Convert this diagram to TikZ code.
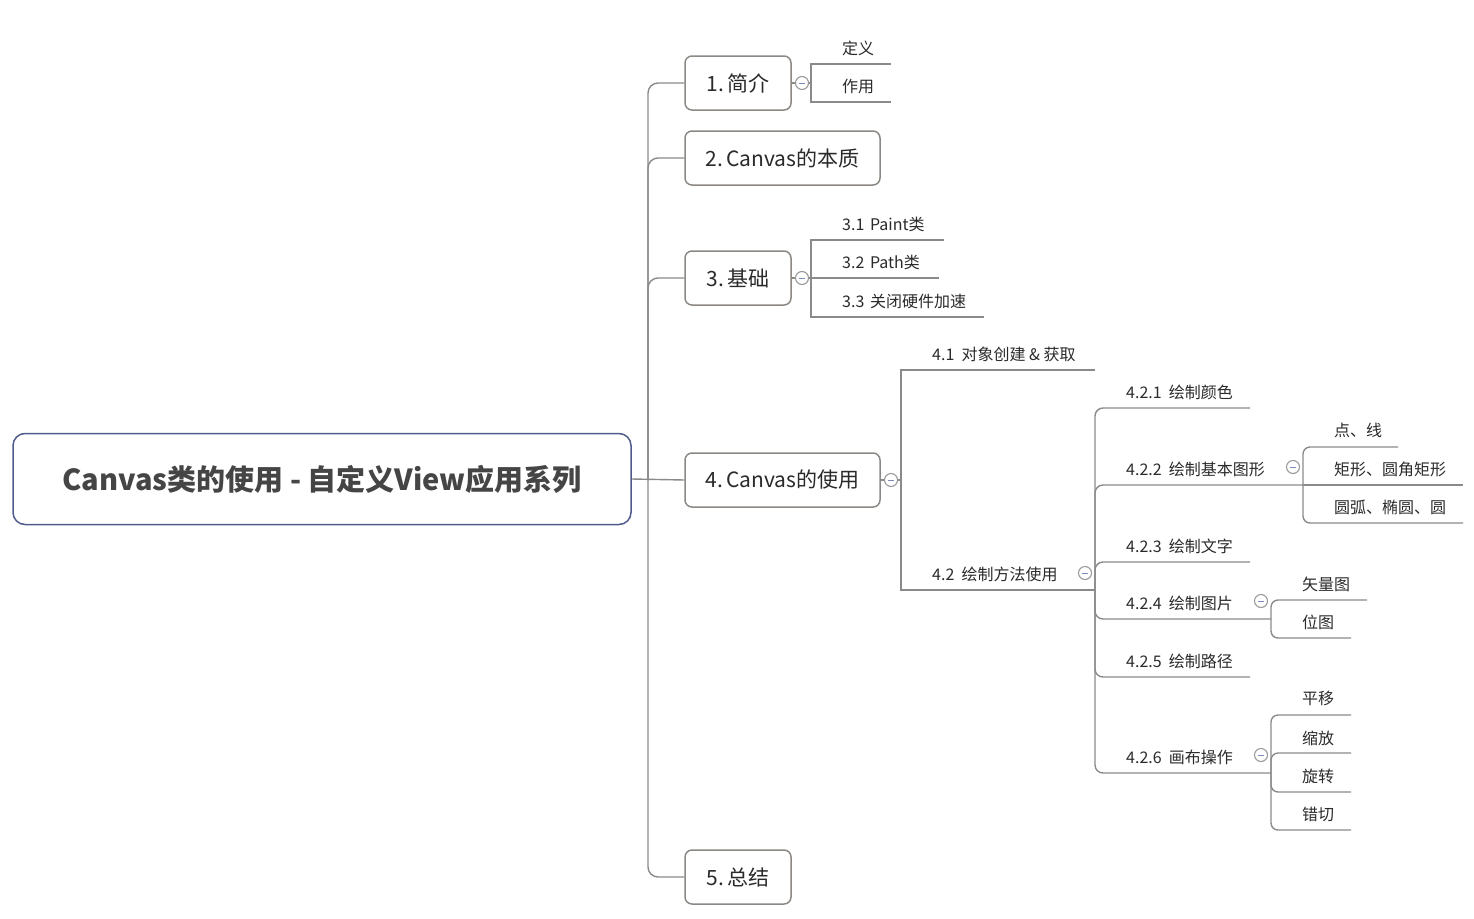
\documentclass[tikz,border=0pt]{standalone}
\usepackage{fontspec}
\setmainfont{Noto Sans CJK SC}
\definecolor{linegray}{HTML}{8A8A8A}
\definecolor{boxgray}{HTML}{8C8884}
\definecolor{rootblue}{HTML}{4F5B8C}
\definecolor{roottxt}{HTML}{454545}
\definecolor{txt}{HTML}{2A2A2A}
\definecolor{foldgray}{HTML}{9A9A9A}
\definecolor{minusblue}{HTML}{7D8BBE}
\newcommand{\mygap}{\hspace{0.45em}}
\begin{document}
\begin{tikzpicture}[x=1pt,y=-1pt,
  conn/.style={draw=linegray,line width=1.4pt},
  topic/.style={draw=boxgray,line width=1.5pt,rounded corners=7pt,fill=white,minimum height=54pt,inner sep=0pt,font=\fontsize{21}{25}\selectfont,text=txt},
  leaf/.style={anchor=base west,inner sep=0pt,font=\fontsize{16}{19}\selectfont,text=txt},
  fold/.style={circle,draw=foldgray,line width=1.1pt,fill=white,minimum size=13pt,inner sep=0pt,
    path picture={\draw[minusblue,line width=1pt] ([xshift=-2.8pt]path picture bounding box.center) -- ([xshift=2.8pt]path picture bounding box.center);}}]
\useasboundingbox (0,0) rectangle (1474,918);

% root
\node[draw=rootblue,line width=1.5pt,rounded corners=12pt,minimum width=618pt,minimum height=91pt,inner sep=0pt,
  font=\fontsize{29}{35}\selectfont\bfseries,text=roottxt] (root) at (322,479) {\raisebox{-1.5pt}{Canvas类的使用 - 自定义View应用系列}};

% main topics
\node[topic,minimum width=106pt] (t1) at (738,83) {\raisebox{-1pt}{1.\,简介}};
\node[topic,minimum width=195pt] (t2) at (782.5,158) {\raisebox{-1pt}{2.\,Canvas的本质}};
\node[topic,minimum width=106pt] (t3) at (738,278) {\raisebox{-1pt}{3.\,基础}};
\node[topic,minimum width=195pt] (t4) at (782.5,480) {\raisebox{-1pt}{4.\,Canvas的使用}};
\node[topic,minimum width=106pt] (t5) at (738,877) {\raisebox{-1pt}{5.\,总结}};

\coordinate (tr) at (648,480);
\draw[conn] (root.east) -- (t4.west);
\draw[conn,rounded corners=10pt] (tr) |- (t1.west);
\draw[conn,rounded corners=10pt] (tr) |- (t2.west);
\draw[conn,rounded corners=10pt] (tr) |- (t3.west);
\draw[conn,rounded corners=10pt] (tr) |- (t5.west);

% topic 1
\node[fold] (f1) at (802,83) {};
\coordinate (b1) at (811,83);
\coordinate (u11) at (891,64);
\coordinate (u12) at (891,102);
\draw[conn] (t1.east) -- (f1.west);
\draw[conn] (f1.east) -- (b1);
\draw[conn] (u11) -| (b1) |- (u12);
\node[leaf] (l11) at (842,54) {定义};
\node[leaf] (l12) at (842,92) {作用};

% topic 3
\node[fold] (f3) at (802,278) {};
\coordinate (b3) at (811,278);
\coordinate (u31) at (944,240);
\coordinate (u32) at (939,278);
\coordinate (u33) at (984,317);
\draw[conn] (t3.east) -- (f3.west);
\draw[conn] (f3.east) -- (b3);
\draw[conn] (u31) -| (b3) |- (u33);
\draw[conn] (b3) -- (u32);
\node[leaf] (l31) at (842,230) {3.1\hspace{0.35em}Paint类};
\node[leaf] (l32) at (842,268) {3.2\hspace{0.35em}Path类};
\node[leaf] (l33) at (842,307) {3.3\hspace{0.35em}关闭硬件加速};

% topic 4
\node[fold] (f4) at (891,480) {};
\coordinate (b4) at (901,480);
\coordinate (u41) at (1095,370);
\coordinate (j42) at (1095,590);
\draw[conn] (t4.east) -- (f4.west);
\draw[conn] (f4.east) -- (b4);
\draw[conn] (u41) -| (b4) |- (j42);
\node[leaf] (l41) at (932,360) {4.1\mygap 对象创建 \& 获取};
\node[leaf] (l42) at (932,580) {4.2\mygap 绘制方法使用};
\node[fold] (f42) at (1085,573) {};

% 4.2 children
\coordinate (u421) at (1250,408);
\coordinate (j422) at (1303,485);
\coordinate (u423) at (1250,562);
\coordinate (j424) at (1271,619);
\coordinate (u425) at (1250,677);
\coordinate (j426) at (1271,773);
\foreach \e in {u421,j422,u423,j424,u425,j426}
  \draw[conn,rounded corners=8pt] (j42) |- (\e);
\node[leaf] (l421) at (1126,398) {4.2.1\mygap 绘制颜色};
\node[leaf] (l422) at (1126,475) {4.2.2\mygap 绘制基本图形};
\node[leaf] (l423) at (1126,552) {4.2.3\mygap 绘制文字};
\node[leaf] (l424) at (1126,609) {4.2.4\mygap 绘制图片};
\node[leaf] (l425) at (1126,667) {4.2.5\mygap 绘制路径};
\node[leaf] (l426) at (1126,763) {4.2.6\mygap 画布操作};
\node[fold] (f422) at (1293,467) {};
\node[fold] (f424) at (1261,601) {};
\node[fold] (f426) at (1261,755) {};

% 4.2.2 children
\coordinate (u4221) at (1398,447);
\coordinate (u4222) at (1463,485);
\coordinate (u4223) at (1463,523);
\draw[conn,rounded corners=7pt] (j422) |- (u4221);
\draw[conn] (j422) -- (u4222);
\draw[conn,rounded corners=7pt] (j422) |- (u4223);
\node[leaf] (l4221) at (1334,436) {点、线};
\node[leaf] (l4222) at (1334,475) {矩形、圆角矩形};
\node[leaf] (l4223) at (1334,513) {圆弧、椭圆、圆};

% 4.2.4 children
\coordinate (u4241) at (1367,600);
\coordinate (u4242) at (1351,638);
\draw[conn,rounded corners=7pt] (j424) |- (u4241);
\draw[conn,rounded corners=7pt] (j424) |- (u4242);
\node[leaf] (l4241) at (1302,590) {矢量图};
\node[leaf] (l4242) at (1302,628) {位图};

% 4.2.6 children
\coordinate (u4261) at (1351,715);
\coordinate (u4262) at (1351,753);
\coordinate (u4263) at (1351,792);
\coordinate (u4264) at (1351,830);
\foreach \e in {u4261,u4262,u4263,u4264}
  \draw[conn,rounded corners=7pt] (j426) |- (\e);
\node[leaf] (l4261) at (1302,704) {平移};
\node[leaf] (l4262) at (1302,744) {缩放};
\node[leaf] (l4263) at (1302,782) {旋转};
\node[leaf] (l4264) at (1302,820) {错切};
\end{tikzpicture}
\end{document}
